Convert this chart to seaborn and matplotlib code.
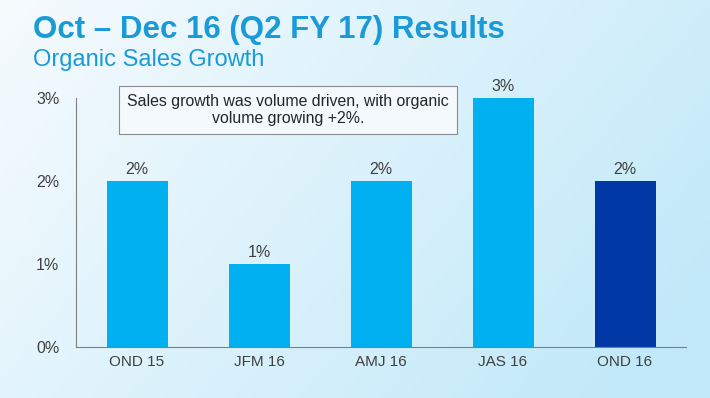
import numpy as np
import matplotlib
matplotlib.use("Agg")
import matplotlib.pyplot as plt
import seaborn as sns
import pandas as pd

categories = ["OND 15", "JFM 16", "AMJ 16", "JAS 16", "OND 16"]
values = [2, 1, 2, 3, 2]
value_labels = ["2%", "1%", "2%", "3%", "2%"]
bar_colors = ["#00B0F0", "#00B0F0", "#00B0F0", "#00B0F0", "#0039A6"]
y_ticks = [0, 1, 2, 3]
y_tick_labels = ["0%", "1%", "2%", "3%"]
title = "Oct \u2013 Dec 16 (Q2 FY 17) Results"
subtitle = "Organic Sales Growth"
note = "Sales growth was volume driven, with organic\nvolume growing +2%."

sns.set_theme(style="white")
plt.rcParams['font.family'] = ['Liberation Sans', 'DejaVu Sans']

fig = plt.figure(figsize=(7.1, 3.98), dpi=100)

# background gradient
bg = fig.add_axes([0, 0, 1, 1], zorder=-10)
gx, gy = np.meshgrid(np.linspace(0, 1, 300), np.linspace(0, 1, 200))
t = np.clip(0.75 * gx + 0.35 * gy, 0, 1)
c0 = np.array([246, 251, 254]) / 255
c1 = np.array([194, 233, 249]) / 255
img = c0[None, None, :] * (1 - t[..., None]) + c1[None, None, :] * t[..., None]
bg.imshow(img, aspect="auto", extent=[0, 1, 0, 1], origin="upper")
bg.axis("off")

ax = fig.add_axes([76 / 710, 1 - 347 / 398, (686 - 76) / 710, (347 - 98) / 398])
ax.patch.set_alpha(0)

df = pd.DataFrame({"cat": categories, "val": values})
sns.barplot(data=df, x="cat", y="val", hue="cat", palette=bar_colors,
            legend=False, width=0.5, ax=ax, saturation=1, linewidth=0)

ax.set_ylim(0, 3)
ax.set_xlim(-0.5, len(categories) - 0.5)
ax.set_xlabel("")
ax.set_ylabel("")
ax.set_yticks(y_ticks)
ax.set_yticklabels(y_tick_labels, fontsize=11.5, color="#404040")
ax.tick_params(axis="x", which="major", length=0, labelsize=11, labelcolor="#404040", pad=6)
ax.set_xticks(np.arange(-0.5, len(categories)), minor=True)
ax.tick_params(axis="x", which="minor", length=4, color="#7f7f7f", width=0.8, direction="out")
ax.tick_params(axis="y", length=4, color="#7f7f7f", width=0.8, direction="out", pad=8)
for s in ["top", "right"]:
    ax.spines[s].set_visible(False)
for s in ["left", "bottom"]:
    ax.spines[s].set_color("#7f7f7f")
    ax.spines[s].set_linewidth(0.8)

for i, (v, lab) in enumerate(zip(values, value_labels)):
    ax.annotate(lab, (i, v), xytext=(0, 3), textcoords="offset points",
                ha="center", va="bottom", fontsize=11.5, color="#404040")

fig.text(33 / 710, 1 - 30 / 398, title, fontsize=22.5, fontweight="bold",
         color="#1A9BD7", va="center", ha="left")
fig.text(33 / 710, 1 - 60 / 398, subtitle, fontsize=17, color="#1A9BD7",
         va="center", ha="left")

fig.text(288 / 710, 1 - 110 / 398, note, fontsize=11.4, color="#262626",
         ha="center", va="center", linespacing=1.15,
         bbox=dict(boxstyle="square,pad=0.5", fc="#F3F9FC", ec="#8c8c8c", lw=0.8))

fig.savefig("out.png", dpi=100)
